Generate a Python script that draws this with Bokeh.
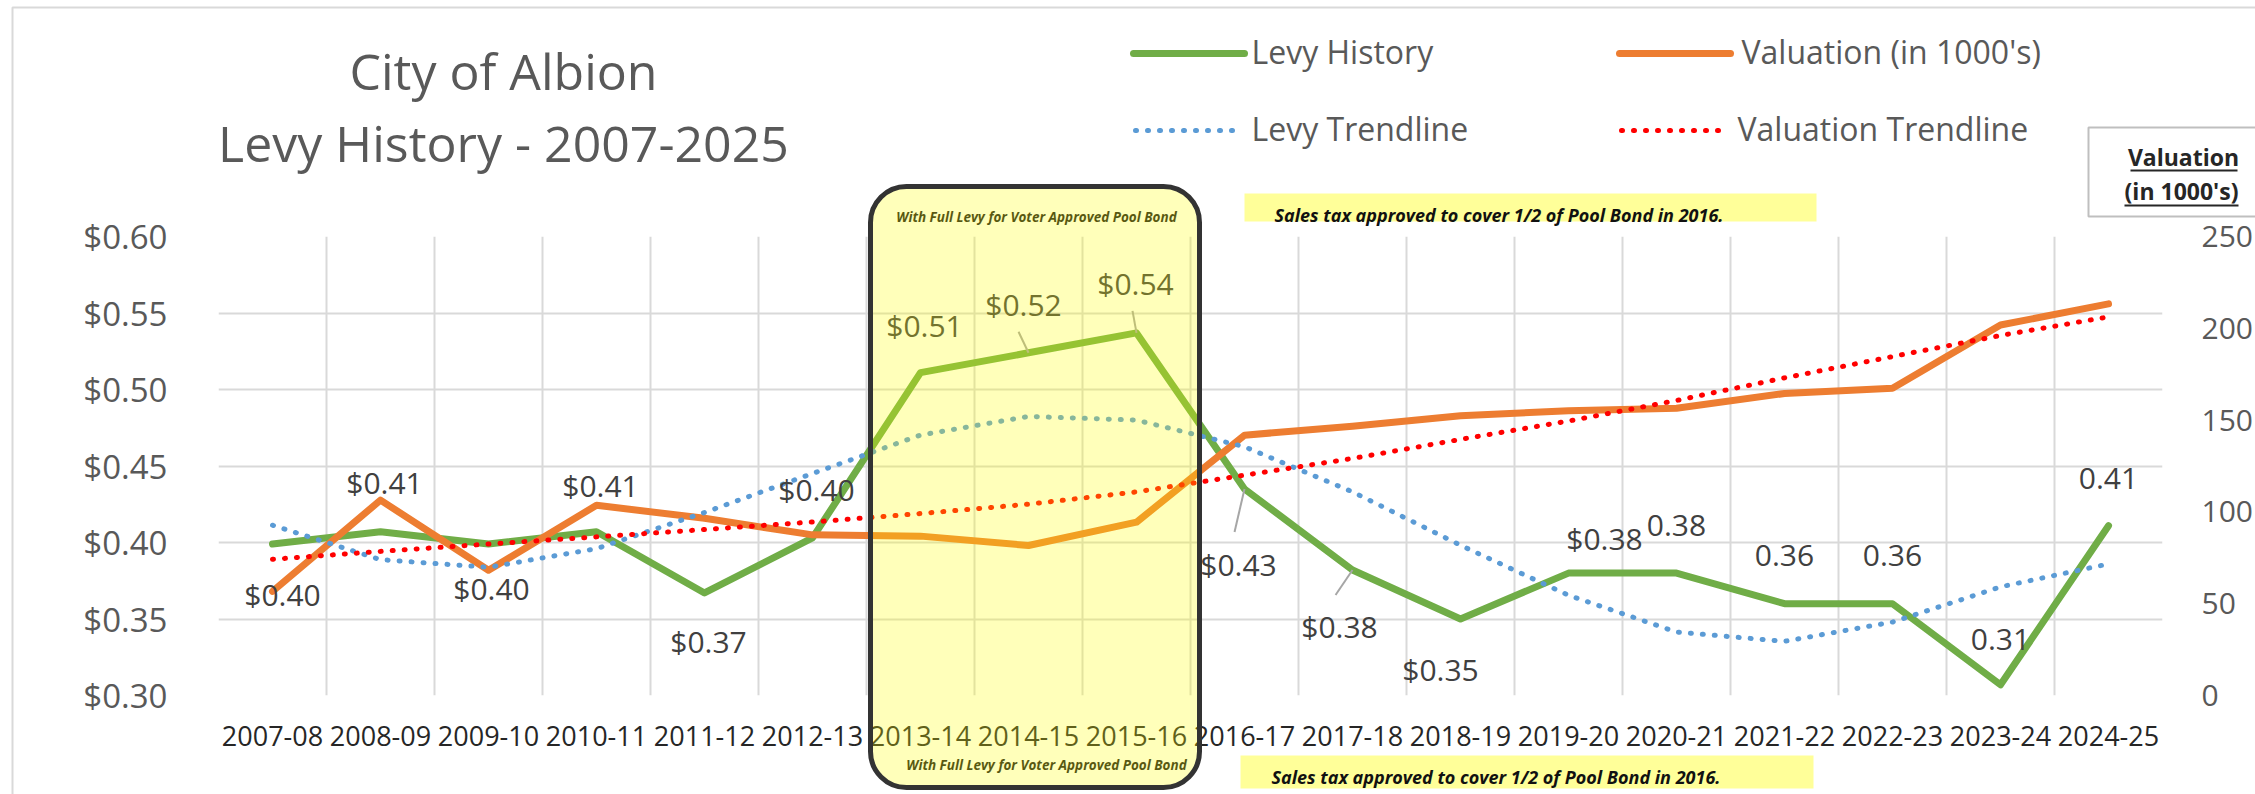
from bokeh.plotting import figure
from bokeh.models import (Range1d, LinearAxis, FixedTicker, NumeralTickFormatter,
                          ColumnDataSource, BoxAnnotation, GridBox)
from bokeh.core.properties import value
from bokeh.embed import file_html
from bokeh.resources import INLINE

# ---------------- data ----------------
categories = ["2007-08", "2008-09", "2009-10", "2010-11", "2011-12", "2012-13",
              "2013-14", "2014-15", "2015-16", "2016-17", "2017-18", "2018-19",
              "2019-20", "2020-21", "2021-22", "2022-23", "2023-24", "2024-25"]
levy = [0.399, 0.407, 0.399, 0.407, 0.367, 0.403, 0.511, 0.524, 0.537,
        0.435, 0.382, 0.350, 0.380, 0.380, 0.360, 0.360, 0.307, 0.411]
valuation = [56.7, 106.4, 68.2, 103.6, 96.5, 87.5, 86.8, 81.7, 94.4,
             141.8, 146.7, 152.4, 155.1, 156.5, 164.5, 167.3, 201.8, 213.3]
levy_trend = [0.4113, 0.3888, 0.3838, 0.3960, 0.4196, 0.4451, 0.4702, 0.4824, 0.4800,
              0.4626, 0.4331, 0.3982, 0.3655, 0.3415, 0.3354, 0.3480, 0.3710, 0.3860]
valuation_trend = [74.2, 78.5, 82.5, 86.4, 90.4, 94.5, 99.1, 104.2, 110.9,
                   120.0, 129.1, 139.5, 149.5, 160.7, 173.0, 184.6, 196.1, 206.2]
levy_labels = ["$0.40", "$0.41", "$0.40", "$0.41", "$0.37", "$0.40", "$0.51", "$0.52", "$0.54",
               "$0.43", "$0.38", "$0.35", "$0.38", "0.38", "0.36", "0.36", "0.31", "0.41"]
left_ticks = [0.30, 0.35, 0.40, 0.45, 0.50, 0.55, 0.60]
right_ticks = [0, 50, 100, 150, 200, 250]

title_lines = ["City of Albion", "Levy History - 2007-2025"]
legend_labels = ["Levy History", "Valuation (in 1000's)", "Levy Trendline", "Valuation Trendline"]
right_axis_title = ["Valuation", "(in 1000's)"]
note_pool = "With Full Levy for Voter Approved Pool Bond"
note_tax = "Sales tax approved to cover 1/2 of Pool Bond in 2016."

# label placement (screen px offsets from each point, +down)
label_dx = [10, 4, 3, 4, 4, 4, 4, -5, -1, -6, -13, -20, 36, 0, 0, 0, 0, 0]
label_dy = [50, -49, 44, -46, 49, -48, -47, -48, -49, 76, 56, 50, -35, -48, -48, -48, -45, -47]
leader_idx = [7, 8, 9, 10]
leader_dx = [-10, -4, -10, -17]
leader_dy = [-21, -22, 43, 25]

# ---------------- layout ----------------
W, H = 2255, 794
BL, BR, BT, BB = 218, 86, 236, 99
FW = W - BL - BR
FH = H - BT - BB
n = len(categories)
CW = FW / n
YH = FH / (0.60 - 0.30)

FONT = "Open Sans"
DOTS = "1 11"
GREEN, ORANGE, BLUE, RED = "#70AD47", "#ED7D31", "#5B9BD5", "#FF0000"

p = figure(width=W, height=H, x_range=Range1d(-0.5, n - 0.5), y_range=Range1d(0.30, 0.60),
           output_backend="svg", toolbar_location=None, frame_align=False,
           min_border_left=BL, min_border_right=BR, min_border_top=BT, min_border_bottom=BB)
p.extra_y_ranges = {"val": Range1d(0, 250)}
p.outline_line_color = None
p.background_fill_color = "white"
p.border_fill_color = "white"

xs = list(range(n))
p.xaxis.ticker = FixedTicker(ticks=xs)
p.xaxis.major_label_overrides = {i: c for i, c in enumerate(categories)}
p.xaxis.major_label_text_font = FONT
p.xaxis.major_label_text_font_size = "27px"
p.xaxis.major_label_text_color = "#262626"
p.xaxis.major_label_standoff = 24
p.xaxis.axis_line_color = None
p.xaxis.major_tick_line_color = None
p.xaxis.minor_tick_line_color = None

p.yaxis.ticker = FixedTicker(ticks=left_ticks)
p.yaxis.formatter = NumeralTickFormatter(format="$0.00")
p.yaxis.major_label_text_font = FONT
p.yaxis.major_label_text_font_size = "33px"
p.yaxis.major_label_text_color = "#595959"
p.yaxis.major_label_standoff = 45
p.yaxis.axis_line_color = None
p.yaxis.major_tick_line_color = None
p.yaxis.minor_tick_line_color = None

ax2 = LinearAxis(y_range_name="val", ticker=FixedTicker(ticks=right_ticks),
                 major_label_text_font=FONT, major_label_text_font_size="30px",
                 major_label_text_color="#595959", major_label_standoff=33,
                 axis_line_color=None, major_tick_line_color=None, minor_tick_line_color=None)
p.add_layout(ax2, "right")

p.xgrid.ticker = FixedTicker(ticks=[i - 0.5 for i in range(n + 1)])
p.xgrid.grid_line_color = "#D9D9D9"
p.xgrid.grid_line_width = 2
p.ygrid.grid_line_color = "#D9D9D9"
p.ygrid.grid_line_width = 2

p.line(xs, levy, line_color=GREEN, line_width=7, line_join="round", line_cap="round")
p.line(xs, valuation, y_range_name="val", line_color=ORANGE, line_width=7,
       line_join="round", line_cap="round")
p.line(xs, levy_trend, line_color=BLUE, line_width=5, line_dash=DOTS, line_cap="round")
p.line(xs, valuation_trend, y_range_name="val", line_color=RED, line_width=5,
       line_dash=DOTS, line_cap="round")

p.segment(x0=list(leader_idx),
          y0=[levy[i] for i in leader_idx],
          x1=[leader_idx[k] + leader_dx[k] / CW for k in range(len(leader_idx))],
          y1=[levy[leader_idx[k]] - leader_dy[k] / YH for k in range(len(leader_idx))],
          line_color="#A6A6A6", line_width=2)

src = ColumnDataSource(dict(x=xs, y=levy, text=levy_labels, xo=label_dx, yo=label_dy))
p.text(x="x", y="y", text="text", x_offset="xo", y_offset="yo", source=src,
       text_font=value(FONT), text_font_size="30px", text_color="#404040",
       text_align="center", text_baseline="middle")

# ---------------- overlay (page-level texts, legend, boxes) ----------------
o = figure(width=W, height=H, x_range=Range1d(0, W), y_range=Range1d(0, H),
           x_axis_type=None, y_axis_type=None, min_border=0, toolbar_location=None,
           output_backend="svg", background_fill_alpha=0, border_fill_alpha=0,
           outline_line_color=None, frame_align=False)


def oy(py):
    return H - py


def otext(x, y, txt, size, color, align="left", style="normal"):
    o.text(x=[x], y=[oy(y)], text=[txt], text_font=value(FONT), text_font_size=size,
           text_color=color, text_align=align, text_baseline="middle",
           text_font_style=style)


# outer chart border
o.line([12, 12, W + 5], [oy(H + 5), oy(7), oy(7)], line_color="#D9D9D9", line_width=2)

# title
otext(503, 70, title_lines[0], "50px", "#595959", "center")
otext(503, 142, title_lines[1], "50px", "#595959", "center")

# legend
leg = [(GREEN, None, 7, 1133, 1244, 53, 1251),
       (ORANGE, None, 7, 1619, 1730, 53, 1741),
       (BLUE, DOTS, 5, 1135, 1240, 130, 1251),
       (RED, DOTS, 5, 1621, 1726, 130, 1737)]
for (col, dash, lw, x0, x1, yy, tx), txt in zip(leg, legend_labels):
    kw = dict(line_dash=dash) if dash else {}
    o.line([x0, x1], [oy(yy), oy(yy)], line_color=col, line_width=lw, line_cap="round", **kw)
    otext(tx, yy - 2, txt, "32px", "#595959")

# right axis title box
o.quad(left=[2088], right=[W + 20], top=[oy(127)], bottom=[oy(216)],
       fill_color="white", line_color="#BFBFBF", line_width=2)
otext(2183, 156, right_axis_title[0], "23px", "#262626", "center", "bold")
otext(2181, 190, right_axis_title[1], "23px", "#262626", "center", "bold")
o.segment(x0=[2130, 2124], y0=[oy(170), oy(205)], x1=[2237, 2238], y1=[oy(170), oy(205)],
          line_color="#262626", line_width=2)

# sales tax notes
o.quad(left=[1244, 1240], right=[1816, 1813], top=[oy(193), oy(755)], bottom=[oy(221), oy(788)],
       fill_color="#FFFF99", line_color=None)
otext(1274, 214, note_tax, "18px", "#111111", "left", "bold italic")
otext(1271, 776, note_tax, "18px", "#111111", "left", "bold italic")

# pool-bond notes and highlight box
otext(1036, 216, note_pool, "13.5px", "#1a1a1a", "center", "bold italic")
otext(1046, 764, note_pool, "13.5px", "#1a1a1a", "center", "bold italic")
o.add_layout(BoxAnnotation(left=870, right=1199, top=oy(186), bottom=oy(787),
                           fill_color="#FFFF00", fill_alpha=0.27, line_color="#333333",
                           line_alpha=1, line_width=5, border_radius=36))

layout = GridBox(children=[(p, 0, 0), (o, 0, 0)])
open("out.html", "w").write(file_html(layout, INLINE))
